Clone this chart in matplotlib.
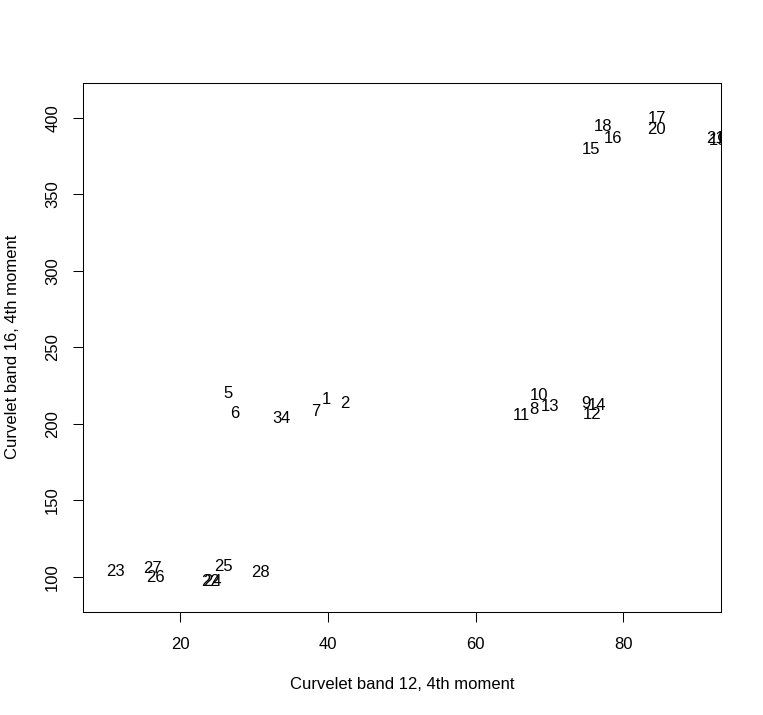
import matplotlib
matplotlib.use('Agg')
import matplotlib.pyplot as plt
from matplotlib.transforms import offset_copy

plt.rcParams['font.family'] = ['Liberation Sans', 'DejaVu Sans']

# label text and positions (curvelet band 12 vs band 16, 4th moment)
labels = [str(i) for i in range(1, 29)]
band12 = [39.76, 42.24, 33.17, 34.21, 26.54, 27.44, 38.36, 67.91, 74.91, 68.63,
          66.24, 75.72, 70.07, 76.40, 75.62, 78.56, 84.51, 77.29, 92.85, 84.51,
          92.45, 24.13, 11.20, 24.33, 25.86, 16.62, 16.31, 30.83]
band16 = [216.6, 214.0, 204.6, 204.6, 220.9, 207.5, 209.0, 210.1, 214.4, 219.4,
          206.1, 206.8, 212.2, 212.9, 380.4, 387.6, 400.7, 395.2, 386.0, 393.1,
          387.3, 97.8, 104.4, 97.8, 107.6, 100.5, 106.1, 103.9]
xticks = [20, 40, 60, 80]
yticks = [100, 150, 200, 250, 300, 350, 400]

W, H = 763, 715
fig = plt.figure(figsize=(W / 100, H / 100), dpi=100)
ax = fig.add_axes([82.7 / W, (H - 611.7) / H, (721 - 82.7) / W, (611.7 - 82.7) / H])

ax.set_xlim(6.83, 93.22)
ax.set_ylim(77.1, 422.9)

#labels drawn at their ink centre, like R's text()
trans = offset_copy(ax.transData, fig=fig, x=0, y=-6, units='dots')
for lab, x, y in zip(labels, band12, band16):
    ax.text(x, y, lab, transform=trans, ha='center', va='baseline',
            fontsize=12, clip_on=True)

ax.set_xticks(xticks)
ax.set_yticks(yticks)
ax.tick_params(length=7.2, width=0.75, labelsize=12)
ax.tick_params(axis='x', pad=11.3)
ax.tick_params(axis='y', pad=9, labelrotation=90)
for t in ax.get_yticklabels():
    t.set_va('center')
for s in ax.spines.values():
    s.set_linewidth(0.75)

ax.set_xlabel('Curvelet band 12, 4th moment', fontsize=12, labelpad=18)
ax.set_ylabel('Curvelet band 16, 4th moment', fontsize=12, labelpad=18)

fig.savefig('out.png', dpi=100)
